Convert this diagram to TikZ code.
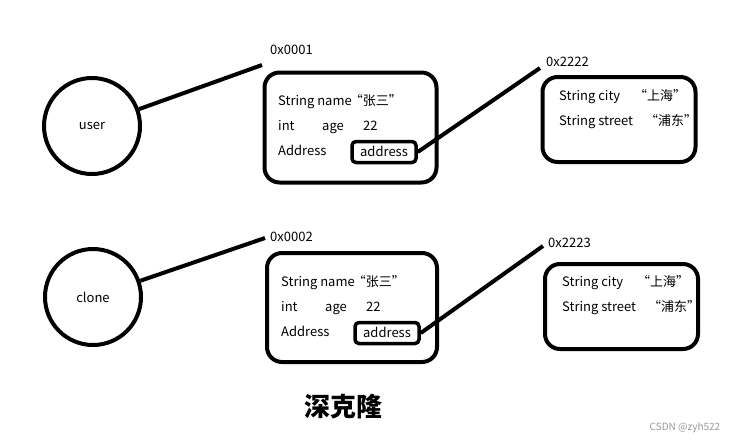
\documentclass[tikz,border=0pt]{standalone}
\usepackage{fontspec}
\setmainfont{Noto Sans CJK SC}
\begin{document}
\begin{tikzpicture}[x=1pt,y=-1pt,
  ref/.style={draw=black,line width=4pt,circle,minimum size=96pt,inner sep=0pt,font=\fontsize{13}{15}\selectfont},
  membox/.style={draw=black,line width=4pt,rounded corners=15pt,inner sep=0pt},
  addrbox/.style={draw=black,line width=3.5pt,rounded corners=4pt,minimum width=64pt,minimum height=21pt,inner sep=0pt,text height=9.5pt,text depth=1pt,font=\fontsize{13}{15}\selectfont},
  txt/.style={anchor=west,inner sep=0pt,text height=9.5pt,text depth=1pt,font=\fontsize{13}{15}\selectfont},
  conn/.style={line width=4pt}]
\useasboundingbox (0,0) rectangle (744,442);
\fill[white] (0,0) rectangle (744,442);

% ---------- upper ----------
\node[ref] (user) at (92,126) {user};
\node[txt] (a1) at (270,50) {0x0001};
\coordinate (p1) at (262,65);
\draw[conn] (user) -- (p1);

\node[membox,minimum width=172pt,minimum height=110pt] (box1) at (350.5,127.5) {};
\node[txt] (n1) at (278,101) {String name\hspace{-2pt}“张三”};
\node[txt] (i1) at (278,126) {int};
\node[txt] (g1) at (322,126) {age};
\node[txt] (v1) at (363,126) {22};
\node[txt] (d1) at (278,151) {Address};
\node[addrbox] (addr1) at (384,152) {address};

\node[txt] (a2) at (546,62) {0x2222};
\coordinate (p2) at (540,68);
\draw[conn] (addr1.east) -- (p2);

\node[membox,minimum width=153pt,minimum height=85pt] (box2) at (619,119.5) {};
\node[txt] (c2) at (559,96) {String city};
\node[txt] (c2v) at (634,96) {“上海”};
\node[txt] (s2) at (559,121) {String street};
\node[txt] (s2v) at (645,121) {“浦东”};

% ---------- lower ----------
\node[ref] (clone) at (93,297) {clone};
\node[txt] (a3) at (270,237) {0x0002};
\coordinate (p3) at (265,238);
\draw[conn] (clone) -- (p3);

\node[membox,minimum width=170pt,minimum height=109pt] (box3) at (352,307.5) {};
\node[txt] (n3) at (281,282) {String name\hspace{-2pt}“张三”};
\node[txt] (i3) at (281,307) {int};
\node[txt] (g3) at (325,307) {age};
\node[txt] (v3) at (366,307) {22};
\node[txt] (d3) at (281,332) {Address};
\node[addrbox] (addr3) at (387,333) {address};

\node[txt] (a4) at (548,243) {0x2223};
\coordinate (p4) at (543,246);
\draw[conn] (addr3.east) -- (p4);

\node[membox,minimum width=153pt,minimum height=85pt] (box4) at (621.5,306.5) {};
\node[txt] (c4) at (562,282) {String city};
\node[txt] (c4v) at (637,282) {“上海”};
\node[txt] (s4) at (562,307) {String street};
\node[txt] (s4v) at (648,307) {“浦东”};

% ---------- caption ----------
\node[inner sep=0pt,font=\fontsize{26}{30}\selectfont\bfseries] (title) at (343,407) {深克隆};
\node[inner sep=0pt,font=\fontsize{10}{12}\selectfont,text=black!40] (csdn) at (685,428) {CSDN @zyh522};
\end{tikzpicture}
\end{document}
